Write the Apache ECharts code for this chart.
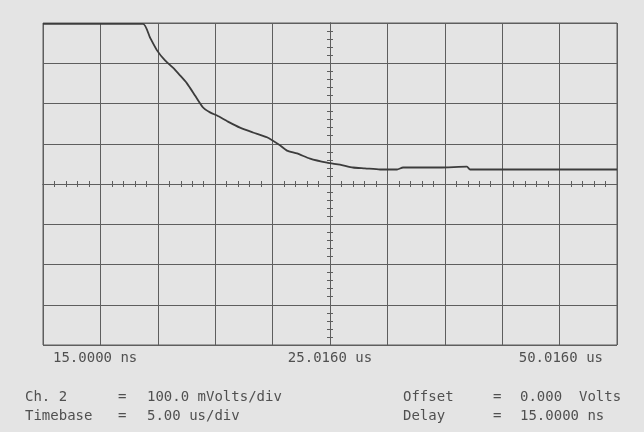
<!DOCTYPE html>
<html>
<head>
<meta charset="utf-8">
<script src="https://cdn.jsdelivr.net/npm/echarts@6/dist/echarts.min.js"></script>
<style>
html,body{margin:0;padding:0;background:#e4e4e4;}
#c{width:644px;height:432px;}
</style>
</head>
<body>
<div id="c"></div>
<script>
// time in microseconds (5 us/div), voltage in mV (100 mV/div, offset 0)
const timeUs = [0, 8.71, 9.32, 9.93, 10.63, 11.32, 11.93, 12.54, 13.24, 13.94, 14.55, 15.16, 16.11, 17.16, 18.29, 19.51, 20.64, 21.25, 22.13, 23.26, 24.74, 25.87, 27.0, 28.05, 29.36, 30.84, 31.36, 34.58, 36.93, 37.2, 50];
const voltMv = [398, 398, 364, 332, 307, 289, 270, 250, 220, 190, 178, 170, 155, 140, 128, 116, 96, 83, 76, 63, 53, 48, 41, 39, 36, 36, 41, 41, 43, 36, 36];
const xTickValues = [0, 25, 50];
const xTickLabels = ['15.0000 ns', '25.0160 us', '50.0160 us'];
const infoLeft = [['Ch. 2', '=', '100.0 mVolts/div'], ['Timebase', '=', '5.00 us/div']];
const infoRight = [['Offset', '=', '0.000  Volts'], ['Delay', '=', '15.0000 ns']];

const FONT = '"DejaVu Sans Mono", monospace';
const INK = '#505050';
const GRIDC = '#5e5e5e';

const chart = echarts.init(document.getElementById('c'), null, {renderer: 'canvas'});

const graphics = [];
const colX = [25, 118, 147, 403, 493, 520];
const rowY = [398, 417];
[0, 1].forEach(r => {
  const items = infoLeft[r].concat(infoRight[r]);
  items.forEach((t, i) => {
    graphics.push({
      type: 'text', left: colX[i], top: rowY[r] - 8,
      style: {text: t, font: '14px ' + FONT, fill: INK}
    });
  });
});

const centerAxisCommon = {
  type: 'value', min: 0, max: 50, interval: 5,
  axisLabel: {show: false}, splitLine: {show: false},
  axisLine: {show: true, lineStyle: {color: GRIDC, width: 1}},
  axisTick: {show: true, length: 3, lineStyle: {color: GRIDC}},
  minorTick: {show: true, splitNumber: 5, length: 3, lineStyle: {color: GRIDC}}
};

const option = {
  backgroundColor: '#e4e4e4',
  animation: false,
  grid: {left: 43, top: 23, width: 574, height: 322, show: true, borderColor: GRIDC, borderWidth: 1, backgroundColor: 'transparent'},
  xAxis: [
    {
      type: 'value', min: 0, max: 50, interval: 5,
      axisLine: {show: false}, axisTick: {show: false},
      splitLine: {show: true, lineStyle: {color: GRIDC, width: 1}},
      axisLabel: {
        show: true, margin: 6, color: INK,
        fontFamily: FONT, fontSize: 14,
        alignMinLabel: 'left', alignMaxLabel: 'right',
        formatter: function (v) {
          const i = xTickValues.indexOf(v);
          if (i < 0) return '';
          const key = i === 0 ? 'l' : (i === xTickValues.length - 1 ? 'r' : 'c');
          return '{' + key + '|' + xTickLabels[i] + '}';
        },
        rich: {
          l: {padding: [0, 0, 0, 10], fontFamily: FONT, fontSize: 14, color: INK},
          c: {fontFamily: FONT, fontSize: 14, color: INK},
          r: {padding: [0, 14, 0, 0], fontFamily: FONT, fontSize: 14, color: INK}
        }
      }
    },
    Object.assign({}, centerAxisCommon, {position: 'bottom', offset: -161}),
    Object.assign({}, centerAxisCommon, {position: 'bottom', offset: -161, axisTick: {show: true, inside: true, length: 3, lineStyle: {color: GRIDC}}})
  ],
  yAxis: [
    {
      type: 'value', min: -400, max: 400, interval: 100,
      axisLine: {show: false}, axisTick: {show: false}, axisLabel: {show: false},
      splitLine: {show: true, lineStyle: {color: GRIDC, width: 1}}
    },
    Object.assign({}, centerAxisCommon, {min: -400, max: 400, interval: 100, position: 'left', offset: -287}),
    Object.assign({}, centerAxisCommon, {min: -400, max: 400, interval: 100, position: 'left', offset: -287, axisTick: {show: true, inside: true, length: 3, lineStyle: {color: GRIDC}}})
  ],
  series: [{
    type: 'line',
    xAxisIndex: 0, yAxisIndex: 0,
    data: timeUs.map((t, i) => [t, voltMv[i]]),
    showSymbol: false, symbol: 'none',
    smooth: 0.2,
    lineStyle: {color: '#3c3c3c', width: 1.8},
    clip: false
  }],
  graphic: graphics
};
chart.setOption(option);
</script>
</body>
</html>
